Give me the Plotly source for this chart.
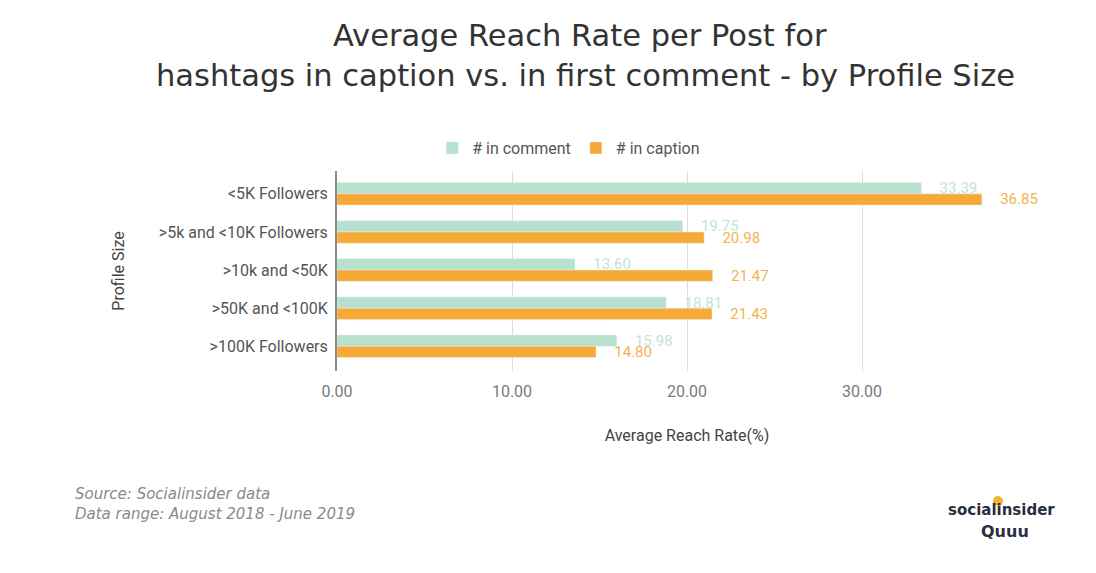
import plotly.graph_objects as go

categories = ["<5K Followers", ">5k and <10K Followers", ">10k and <50K",
              ">50K and <100K", ">100K Followers"]
in_comment = [33.39, 19.75, 13.60, 18.81, 15.98]
in_caption = [36.85, 20.98, 21.47, 21.43, 14.80]
x_ticks = [0, 10, 20, 30, 40]
x_tick_labels = ["0.00", "10.00", "20.00", "30.00", ""]

green = "#B7E1CD"
orange = "#F6A935"

# labels sit a bit away from the bar ends, like in the original
label_fmt = "\u2002\u2002%{x:.2f}"

fig = go.Figure()
fig.add_trace(go.Bar(
    name="# in comment", y=categories, x=in_comment, orientation="h",
    marker_color=green, texttemplate=label_fmt,
    textposition="outside", textfont=dict(color="#C3E3D6", size=15),
    constraintext="none", cliponaxis=False,
))
fig.add_trace(go.Bar(
    name="# in caption", y=categories, x=in_caption, orientation="h",
    marker_color=orange, texttemplate=label_fmt,
    textposition="outside", textfont=dict(color="#F4B350", size=15),
    constraintext="none", cliponaxis=False,
))

# plot area on screen: x 337..1037, y 171..371 (page has 8px offset)
fig.update_layout(
    width=1096, height=573,
    margin=dict(l=329, r=67, t=163, b=210),
    paper_bgcolor="white", plot_bgcolor="white",
    barmode="group", bargap=0.41, bargroupgap=0,
    font=dict(family="Roboto", color="#666666", size=16),
    showlegend=True,
    legend=dict(orientation="h", x=0.136, xanchor="left", y=1.115, yanchor="middle",
                font=dict(size=16, color="#555555"), traceorder="normal"),
)
fig.update_xaxes(
    range=[0, 40], tickvals=x_ticks, ticktext=x_tick_labels,
    showgrid=True, gridcolor="#DDDDDD", zeroline=False,
    tickfont=dict(size=16, color="#7A7A7A"), ticks="", ticklabelstandoff=9,
    title=dict(text="Average Reach Rate(%)", standoff=29,
               font=dict(size=16, color="#444444")),
)
fig.update_yaxes(
    range=[4.65, -0.6], showline=True, linecolor="#8A8A8A", linewidth=2,
    tickfont=dict(size=16, color="#555555"), ticks="", ticklabelstandoff=4,
    title=dict(text="Profile Size", standoff=30, font=dict(size=16, color="#444444")),
)

title_font = dict(family="DejaVu Sans", size=30.5, color="#333333")
fig.add_annotation(text="Average Reach Rate per Post for",
                   x=(580 - 337) / 700.0, xanchor="center", y=1.68, yanchor="middle",
                   xref="paper", yref="paper", showarrow=False, font=title_font)
fig.add_annotation(text="hashtags in caption vs. in first comment - by Profile Size",
                   x=(585 - 337) / 700.0, xanchor="center", y=1.475, yanchor="middle",
                   xref="paper", yref="paper", showarrow=False, font=title_font)

fig.add_annotation(text="<i>Source: Socialinsider data<br>Data range: August 2018 - June 2019</i>",
                   x=(73 - 337) / 700.0, xanchor="left", y=-0.6625,
                   yanchor="middle", xref="paper", yref="paper", showarrow=False,
                   align="left", font=dict(family="DejaVu Sans", size=15, color="#8A8A8A"))
fig.add_annotation(text="<b>socialinsider</b>", x=(1001 - 337) / 700.0, xanchor="center",
                   y=-0.695, yanchor="middle", xref="paper", yref="paper",
                   showarrow=False, font=dict(family="DejaVu Sans", size=15, color="#2B2D42"))
fig.add_annotation(text="<b>Quuu</b>", x=(1005 - 337) / 700.0, xanchor="center",
                   y=-0.8, yanchor="middle", xref="paper", yref="paper",
                   showarrow=False, font=dict(family="DejaVu Sans", size=16, color="#2B2D42"))
# little sun above the logo
fig.add_shape(type="circle", xref="paper", yref="paper",
              x0=(993 - 337) / 700.0, x1=(1003 - 337) / 700.0,
              y0=-(506 - 371) / 200.0, y1=-(496 - 371) / 200.0,
              fillcolor="#F6B333", line=dict(width=0), layer="below")

fig.write_html("out.html")
